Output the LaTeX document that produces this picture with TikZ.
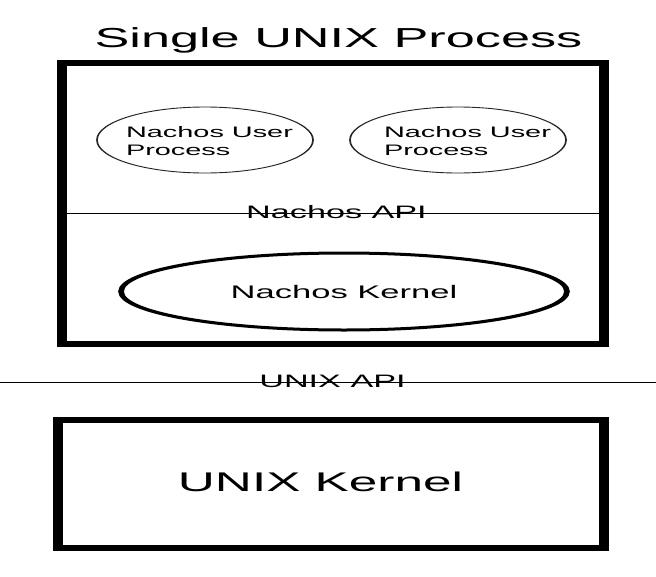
\documentclass[tikz,border=0pt]{standalone}
\usepackage{fontspec}
\setmainfont{Liberation Sans}
\usetikzlibrary{shapes.geometric}

\tikzset{
  heavybox/.style={draw,line width=5.5pt,inner sep=0pt},
  userproc/.style={ellipse,draw=black!85,line width=0.9pt,inner sep=0pt,
    minimum width=113.7pt,minimum height=66pt},
  procname/.style={inner sep=0pt,align=left,font=\fontsize{15.2}{18}\selectfont},
  kernelproc/.style={ellipse,draw,line width=3pt,inner sep=0pt,
    minimum width=234.7pt,minimum height=77pt,font=\fontsize{18.2}{22}\selectfont},
  apilabel/.style={anchor=base,inner sep=0pt,font=\fontsize{18}{22}\selectfont},
  biglabel/.style={anchor=base,inner sep=0pt,font=\fontsize{27.5}{33}\selectfont}
}

\begin{document}
\begin{tikzpicture}[x=1pt,y=-1pt]
  \useasboundingbox (0,0) rectangle (656,576);

\begin{scope}[x=0.52632pt,transform canvas={xscale=1.9}]
  \node[biglabel] (title) at (338.5,47) {Single UNIX Process};

  \node[heavybox,minimum width=285.3pt,minimum height=281pt] (nachos) at (333,203.5) {};

  \node[userproc] (user1) at (205,140) {};
  \node[userproc] (user2) at (458,140) {};
  \node[procname] (name1) at (209.5,141.5) {Nachos User\\Process};
  \node[procname] (name2) at (467.5,141.5) {Nachos User\\Process};

  \node[apilabel] (napi) at (336.5,218) {Nachos API};
  \coordinate (napiL) at (62,213);
  \coordinate (napiR) at (604,213);
  \draw[line width=1pt] (napiL) -- (napiR);

  \node[kernelproc] (nkernel) at (344,291.5) {Nachos Kernel};

  \node[apilabel] (uapi) at (332.5,387) {UNIX API};
  \coordinate (uapiL) at (0,382);
  \coordinate (uapiR) at (656,382);
  \draw[line width=1pt] (uapiL) -- (uapiR);

  \node[heavybox,minimum width=287.4pt,minimum height=128pt] (ukbox) at (331,484) {};
  \node[biglabel,font=\fontsize{27}{32}\selectfont] (uklabel) at (320.5,491) {UNIX Kernel};
\end{scope}

\end{tikzpicture}
\end{document}
